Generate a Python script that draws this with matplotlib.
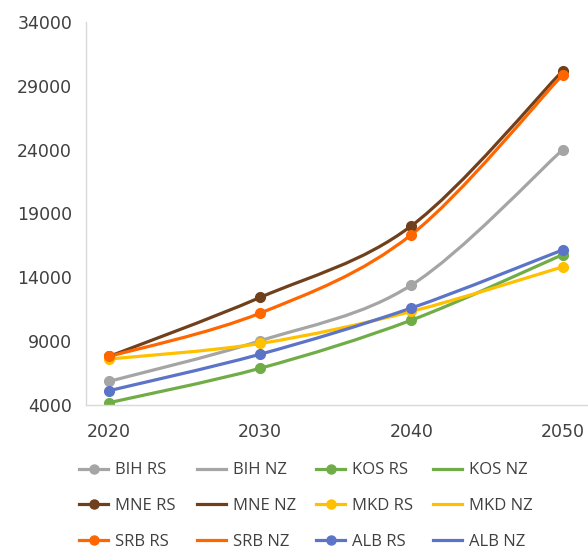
import numpy as np
import matplotlib
matplotlib.use('Agg')
import matplotlib.pyplot as plt
from matplotlib.path import Path
from matplotlib.patches import PathPatch
from matplotlib.lines import Line2D

plt.rcParams['font.family'] = ['Open Sans', 'DejaVu Sans']

years = [2020, 2030, 2040, 2050]
bih_rs = [5850, 9030, 13400, 24000]
kos_rs = [4180, 6880, 10650, 15780]
mne_rs = [7800, 12430, 18040, 30180]
mkd_rs = [7600, 8820, 11330, 14820]
srb_rs = [7800, 11200, 17350, 29870]
alb_rs = [5120, 7980, 11600, 16150]

series = [
    ('BIH', bih_rs, '#A5A5A5'),
    ('KOS', kos_rs, '#70AD47'),
    ('MNE', mne_rs, '#70401C'),
    ('MKD', mkd_rs, '#FFC000'),
    ('SRB', srb_rs, '#FF6600'),
    ('ALB', alb_rs, '#5B74C8'),
]
legend_order = ['BIH', 'MNE', 'SRB', 'KOS', 'MKD', 'ALB']
text_color = '#404040'


def smooth_path(x, y):
    # Excel-style smoothed line: Catmull-Rom segments as cubic Bezier curves
    pts = np.column_stack([x, y]).astype(float)
    ext = np.vstack([pts[0], pts, pts[-1]])
    verts = [pts[0]]
    codes = [Path.MOVETO]
    for i in range(1, len(ext) - 2):
        p0, p1, p2, p3 = ext[i - 1], ext[i], ext[i + 1], ext[i + 2]
        verts += [p1 + (p2 - p0) / 6, p2 - (p3 - p1) / 6, p2]
        codes += [Path.CURVE4] * 3
    return Path(verts, codes)


fig = plt.figure(figsize=(5.88, 5.49), dpi=100)
ax = fig.add_axes([86 / 588, 144 / 549, 507 / 588, 383 / 549])

for name, vals, color in series:
    ax.add_patch(PathPatch(smooth_path(years, vals), fill=False, edgecolor=color,
                           lw=2.3, capstyle='round', joinstyle='round'))
    ax.plot(years, vals, ls='none', marker='o', ms=7, color=color)

ax.set_xlim(2018.48, 2052)
ax.set_ylim(4000, 34000)
ax.set_xticks(years)
ax.set_yticks(range(4000, 34001, 5000))
ax.tick_params(axis='both', length=0, labelcolor=text_color)
ax.tick_params(axis='y', pad=10)
ax.tick_params(axis='x', pad=13)
for lbl in ax.get_xticklabels() + ax.get_yticklabels():
    lbl.set_fontfamily('DejaVu Sans')
    lbl.set_fontsize(12.5)
for s in ['top', 'right']:
    ax.spines[s].set_visible(False)
for s in ['left', 'bottom']:
    ax.spines[s].set_color('#D9D9D9')
    ax.spines[s].set_linewidth(1)

colors = {n: c for n, _, c in series}
columns = [
    ([(n + ' RS', colors[n], True) for n in legend_order[:3]], 79),
    ([(n + ' NZ', colors[n], False) for n in legend_order[:3]], 197),
    ([(n + ' RS', colors[n], True) for n in legend_order[3:]], 316),
    ([(n + ' NZ', colors[n], False) for n in legend_order[3:]], 433),
]
for entries, xpix in columns:
    handles = [Line2D([], [], color=c, lw=2.3, marker='o' if m else None, ms=6.5)
                for _, c, m in entries]
    leg = fig.legend(handles, [e[0] for e in entries], loc='center left',
                     bbox_to_anchor=(xpix / 588, 43 / 549), frameon=False,
                     fontsize=12, handlelength=1.75, handletextpad=0.4,
                     labelspacing=1.17, borderpad=0, borderaxespad=0)
    for t in leg.get_texts():
        t.set_color(text_color)

fig.savefig('out.png', dpi=100)
